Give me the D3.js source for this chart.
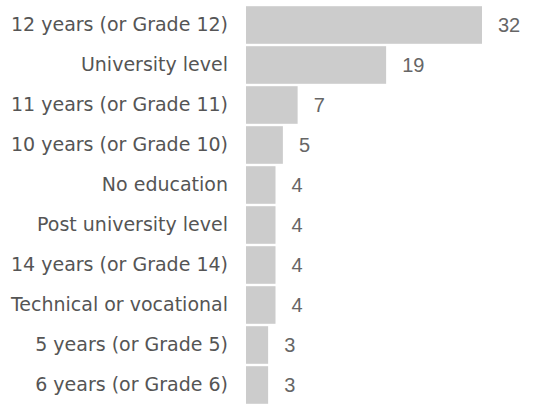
<!DOCTYPE html>
<html>
<head>
<meta charset="utf-8">
<script src="https://cdn.jsdelivr.net/npm/d3@7"></script>
<style>
  body { margin: 0; background: #fff; }
</style>
</head>
<body>
<div id="chart-container"></div>
<script>
// Dữ liệu
const categories = [
    "12 years (or Grade 12)",
    "University level",
    "11 years (or Grade 11)",
    "10 years (or Grade 10)",
    "No education",
    "Post university level",
    "14 years (or Grade 14)",
    "Technical or vocational",
    "5 years (or Grade 5)",
    "6 years (or Grade 6)"
];
const counts = [32, 19, 7, 5, 4, 4, 4, 4, 3, 3];

const width = 537;
const height = 416;
const margin = { top: 5, right: 55, bottom: 11, left: 246 };

const svg = d3.select("#chart-container")
    .append("svg")
    .attr("width", width)
    .attr("height", height)
    .append("g")
    .attr("transform", `translate(${margin.left},${margin.top})`);

const innerH = height - margin.top - margin.bottom;

// Thang x
const xScale = d3.scaleLinear()
    .domain([0, 32])
    .range([0, 236]);

// Thang y
const yScale = d3.scaleBand()
    .domain(categories)
    .range([0, innerH])
    .paddingInner(0.06)
    .paddingOuter(0.03);

// Vẽ bars
svg.selectAll("rect")
    .data(categories)
    .join("rect")
    .attr("x", 0)
    .attr("y", d => yScale(d))
    .attr("width", (d, i) => xScale(counts[i]))
    .attr("height", yScale.bandwidth())
    .attr("fill", "#cccccc");

// Nhãn giá trị
svg.selectAll(".value")
    .data(categories)
    .join("text")
    .attr("class", "value")
    .attr("x", (d, i) => xScale(counts[i]) + 16)
    .attr("y", d => yScale(d) + yScale.bandwidth() / 2)
    .attr("dy", "0.35em")
    .style("font-family", "'Liberation Sans', Arial, sans-serif")
    .style("font-size", "20px")
    .attr("fill", "#666")
    .text((d, i) => counts[i]);

// Trục y
svg.append("g")
    .call(d3.axisLeft(yScale).tickSize(0).tickPadding(18))
    .call(g => g.selectAll("text")
        .style("font-family", "'DejaVu Sans', Verdana, sans-serif")
        .style("font-size", "19px")
        .attr("fill", "#555"));

// Ẩn đường viền
svg.selectAll(".domain").remove();
</script>
</body>
</html>
